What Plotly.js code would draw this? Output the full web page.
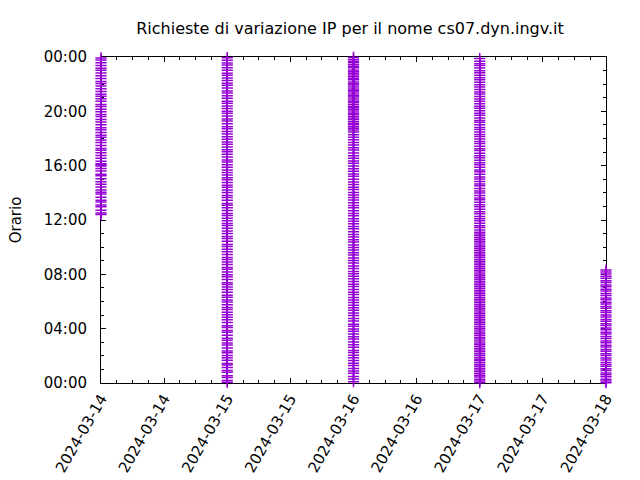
<!DOCTYPE html>
<html>
<head>
<meta charset="utf-8">
<script src="https://cdn.plot.ly/plotly-3.0.1.min.js"></script>
<style>html,body{margin:0;padding:0;background:#fff;}#chart{width:640px;height:480px;}</style>
</head>
<body>
<div id="chart"></div>
<script>
const chartTitle = "Richieste di variazione IP per il nome cs07.dyn.ingv.it";
const yTitle = "Orario";
const days = ["2024-03-14", "2024-03-15", "2024-03-16", "2024-03-17", "2024-03-18"];

const times_0314 = ["12:24","12:31","12:43","12:58","13:06","13:19","13:27","13:41","13:55","14:03","14:12","14:26","14:38","14:49","15:02","15:15","15:22","15:36","15:47","15:58","16:04","16:09","16:19","16:33","16:45","16:57","17:08","17:16","17:29","17:42","17:53","18:05","18:14","18:27","18:39","18:48","19:01","19:13","19:24","19:37","19:46","19:58","20:09","20:21","20:30","20:44","20:56","21:07","21:15","21:28","21:40","21:52","22:03","22:12","22:25","22:37","22:49","23:01","23:10","23:22","23:35","23:47","23:56"];

const times_0315 = ["00:03","00:11","00:24","00:32","00:47","00:55","01:08","01:19","01:26","01:40","01:51","02:02","02:14","02:21","02:35","02:48","02:57","03:09","03:18","03:31","03:44","03:52","04:05","04:13","04:27","04:39","04:50","05:01","05:12","05:25","05:33","05:46","05:58","06:07","06:19","06:28","06:41","06:53","07:04","07:15","07:23","07:37","07:49","07:58","08:10","08:22","08:30","08:43","08:55","09:06","09:14","09:28","09:40","09:51","10:03","10:12","10:26","10:38","10:47","11:00","11:11","11:24","11:36","11:45","11:57","12:08","12:20","12:29","12:42","12:54","13:05","13:13","13:27","13:39","13:48","14:01","14:12","14:25","14:33","14:46","14:58","15:07","15:19","15:30","15:41","15:53","16:04","16:16","16:25","16:38","16:50","17:02","17:10","17:23","17:35","17:44","17:57","18:08","18:20","18:31","18:43","18:52","19:05","19:17","19:26","19:39","19:51","20:00","20:13","20:24","20:36","20:45","20:58","21:09","21:21","21:30","21:43","21:55","22:04","22:16","22:27","22:39","22:48","23:01","23:12","23:25","23:34","23:46","23:57"];

const times_0316 = ["00:06","00:18","00:29","00:43","00:53","01:04","01:17","01:27","01:39","01:52","02:03","02:15","02:24","02:38","02:49","03:01","03:14","03:24","03:36","03:49","03:59","04:11","04:20","04:34","04:45","04:58","05:09","05:21","05:32","05:43","05:56","06:07","06:18","06:31","06:41","06:53","07:06","07:16","07:28","07:40","07:51","08:03","08:13","08:26","08:37","08:50","09:01","09:12","09:25","09:35","09:47","09:58","10:10","10:23","10:33","10:45","10:56","11:08","11:21","11:31","11:43","11:55","12:06","12:19","12:29","12:41","12:54","13:04","13:16","13:28","13:39","13:50","14:02","14:15","14:25","14:37","14:48","15:00","15:13","15:23","15:35","15:46","15:58","16:11","16:21","16:33","16:44","16:56","17:09","17:19","17:31","17:42","17:54","18:06","18:17","18:29","18:37","18:45","18:52","19:01","19:07","19:15","19:24","19:31","19:38","19:47","19:53","20:01","20:09","20:16","20:23","20:31","20:40","20:46","20:54","21:03","21:09","21:17","21:25","21:32","21:39","21:47","21:56","22:02","22:10","22:19","22:25","22:33","22:41","22:48","22:55","23:03","23:12","23:18","23:26","23:35","23:41","23:49","23:58"];

const times_0317 = ["00:02","00:09","00:17","00:26","00:33","00:41","00:50","00:57","01:05","01:14","01:21","01:29","01:38","01:45","01:53","02:02","02:09","02:18","02:26","02:33","02:42","02:50","02:57","03:06","03:14","03:21","03:30","03:38","03:45","03:54","04:02","04:10","04:18","04:26","04:34","04:42","04:50","04:58","05:06","05:14","05:22","05:30","05:38","05:46","05:54","06:02","06:10","06:18","06:26","06:34","06:42","06:50","06:58","07:06","07:14","07:22","07:30","07:38","07:46","07:54","08:02","08:10","08:18","08:26","08:34","08:42","08:50","08:58","09:06","09:14","09:22","09:30","09:38","09:46","09:54","10:02","10:10","10:18","10:26","10:34","10:42","10:50","10:58","11:06","11:16","11:27","11:35","11:46","11:57","12:05","12:16","12:28","12:36","12:47","12:58","13:07","13:18","13:29","13:37","13:48","13:59","14:08","14:19","14:31","14:39","14:50","15:01","15:10","15:22","15:33","15:41","15:53","16:04","16:13","16:24","16:35","16:44","16:55","17:07","17:15","17:26","17:38","17:47","17:58","18:09","18:18","18:29","18:40","18:49","19:01","19:12","19:20","19:31","19:43","19:52","20:03","20:14","20:23","20:34","20:45","20:54","21:06","21:17","21:25","21:36","21:48","21:57","22:08","22:19","22:28","22:39","22:50","22:59","23:11","23:22","23:30","23:41","23:53"];

const times_0318 = ["00:01","00:09","00:17","00:28","00:36","00:44","00:55","01:03","01:14","01:22","01:31","01:42","01:50","02:01","02:09","02:20","02:28","02:39","02:47","02:58","03:06","03:17","03:25","03:36","03:44","03:55","04:03","04:14","04:22","04:33","04:41","04:52","05:00","05:11","05:19","05:30","05:38","05:49","05:57","06:08","06:16","06:27","06:35","06:46","06:54","07:05","07:13","07:24","07:32","07:43","07:51","08:02","08:10","08:19"];

const timesByDay = [times_0314, times_0315, times_0316, times_0317, times_0318];

const xs = [], ys = [];
timesByDay.forEach(function (list, i) {
  list.forEach(function (t) {
    xs.push(days[i]);
    ys.push("2000-01-01 " + t);
  });
});

const trace = {
  type: "scatter",
  mode: "markers",
  x: xs,
  y: ys,
  cliponaxis: false,
  marker: {
    symbol: "cross-thin",
    size: 8,
    color: "#9400D3",
    line: { color: "#9400D3", width: 1.5 }
  },
  hoverinfo: "skip",
  showlegend: false
};

const axisCommon = {
  showline: true,
  linecolor: "#000",
  linewidth: 1,
  mirror: "allticks",
  ticks: "inside",
  ticklen: 5,
  tickwidth: 1,
  tickcolor: "#000",
  showgrid: false,
  zeroline: false,
  layer: "below traces",
  tickfont: { family: "DejaVu Sans", size: 15, color: "#000" }
};

const layout = {
  width: 640,
  height: 480,
  margin: { l: 101, r: 34, t: 57, b: 97 },
  paper_bgcolor: "#fff",
  plot_bgcolor: "#fff",
  font: { family: "DejaVu Sans", size: 15, color: "#000" },
  title: {
    text: chartTitle,
    font: { family: "DejaVu Sans", size: 16, color: "#000" },
    x: 350 / 640,
    xanchor: "center",
    xref: "container",
    y: 1 - 28 / 480,
    yanchor: "middle",
    yref: "container"
  },
  xaxis: Object.assign({}, axisCommon, {
    type: "date",
    range: ["2024-03-14 00:00", "2024-03-18 00:00"],
    tick0: "2024-03-14 00:00",
    dtick: 43200000,
    tickformat: "%Y-%m-%d",
    tickangle: -60,
    minor: { dtick: 10800000, ticks: "inside", ticklen: 3, tickcolor: "#000", showgrid: false }
  }),
  yaxis: Object.assign({}, axisCommon, {
    type: "date",
    range: ["2000-01-01 00:00", "2000-01-02 00:00"],
    tick0: "2000-01-01 00:00",
    dtick: 14400000,
    tickformat: "%H:%M",
    ticklabelstandoff: 10,
    minor: { dtick: 3600000, ticks: "inside", ticklen: 3, tickcolor: "#000", showgrid: false },
    title: { text: yTitle, standoff: 18, font: { family: "DejaVu Sans", size: 15, color: "#000" } }
  })
};

Plotly.newPlot("chart", [trace], layout, { staticPlot: true, displayModeBar: false });
</script>
</body>
</html>
